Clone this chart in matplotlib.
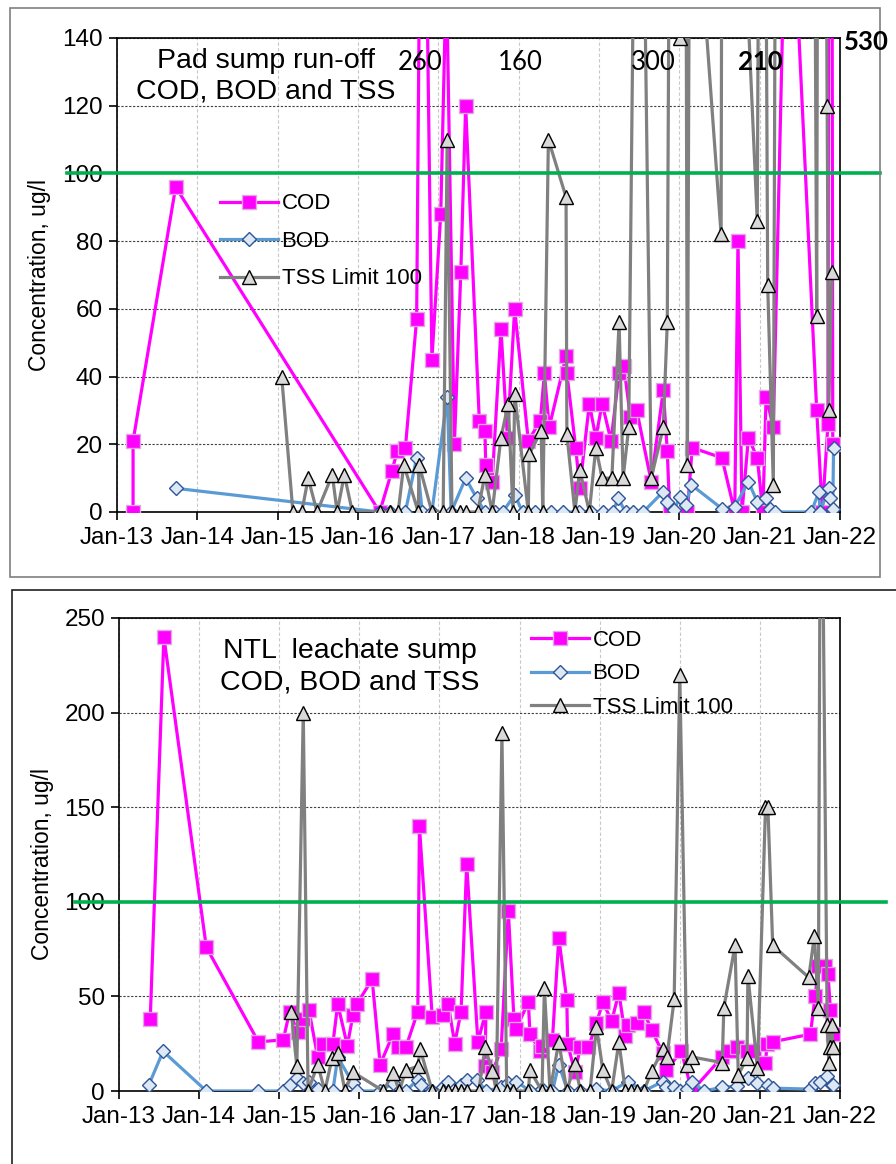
import matplotlib
matplotlib.use("Agg")
import matplotlib.pyplot as plt
from matplotlib.patches import Rectangle

plt.rcParams['font.family'] = ['Liberation Sans', 'DejaVu Sans']

# decimal year positions and concentrations, pad sump run-off
top_cod_x = [2013.20, 2013.20, 2013.73, 2016.27, 2016.42, 2016.49, 2016.59, 2016.73, 2016.80, 2016.92,
             2017.03, 2017.10, 2017.20, 2017.28, 2017.34, 2017.51, 2017.58, 2017.59, 2017.67, 2017.78,
             2017.86, 2017.95, 2018.12, 2018.27, 2018.32, 2018.38, 2018.59, 2018.60, 2018.71, 2018.76,
             2018.88, 2018.96, 2019.04, 2019.15, 2019.25, 2019.31, 2019.39, 2019.47, 2019.65, 2019.80,
             2019.85, 2019.88, 2020.10, 2020.16, 2020.53, 2020.69, 2020.73, 2020.78, 2020.86, 2020.97,
             2021.04, 2021.08, 2021.17, 2021.35, 2021.71, 2021.78, 2021.85, 2021.88, 2021.91]
top_cod_y = [0, 21, 96, 0, 12, 18, 19, 57, 260, 45,
             88, 160, 20, 71, 120, 27, 24, 14, 9, 54,
             22, 60, 21, 27, 41, 25, 46, 41, 19, 7,
             32, 22, 32, 21, 41, 43, 28, 30, 9, 36,
             18, 0, 0, 19, 16, 0, 80, 0, 22, 16,
             0, 34, 25, 210, 30, 0, 26, 530, 20]

top_bod_x = [2013.73, 2016.27, 2016.40, 2016.59, 2016.73, 2016.80, 2016.92, 2017.11, 2017.16, 2017.34,
             2017.48, 2017.58, 2017.70, 2017.80, 2017.95, 2018.05, 2018.20, 2018.40, 2018.55, 2018.75,
             2018.90, 2019.05, 2019.17, 2019.24, 2019.33, 2019.42, 2019.55, 2019.80, 2019.85, 2019.93,
             2020.01, 2020.08, 2020.15, 2020.53, 2020.69, 2020.86, 2020.97, 2021.08, 2021.13, 2021.19,
             2021.64, 2021.74, 2021.75, 2021.86, 2021.87, 2021.91, 2021.92]
top_bod_y = [7, 0, 0, 0, 16, 0, 0, 34, 0, 10,
             4, 0, 0, 0, 5, 0, 0, 0, 0, 0,
             0, 0, 0, 4, 0, 0, 0, 6, 3, 0.5,
             4.5, 2, 8, 1, 1.5, 9, 3, 4, 1, 0,
             0, 6, 0, 7, 4, 1, 19]

top_tss_x = [2015.05, 2015.19, 2015.30, 2015.38, 2015.49, 2015.68, 2015.74, 2015.83, 2015.93, 2016.27,
             2016.40, 2016.50, 2016.57, 2016.75, 2016.76, 2016.92, 2017.06, 2017.11, 2017.17, 2017.27,
             2017.34, 2017.49, 2017.58, 2017.67, 2017.78, 2017.87, 2017.93, 2017.95, 2018.12, 2018.13,
             2018.28, 2018.30, 2018.37, 2018.59, 2018.60, 2018.70, 2018.76, 2018.88, 2018.96, 2019.04,
             2019.16, 2019.25, 2019.30, 2019.37, 2019.49, 2019.65, 2019.80, 2019.85, 2019.92, 2020.01,
             2020.06, 2020.10, 2020.13, 2020.52, 2020.54, 2020.97, 2021.03, 2021.10, 2021.17, 2021.20,
             2021.68, 2021.71, 2021.75, 2021.84, 2021.86, 2021.90]
top_tss_y = [40, 0, 0, 10, 0, 11, 0, 11, 0, 0,
             0, 0, 14, 0, 14, 0, 0, 110, 0, 0,
             0, 0, 11, 0, 22, 32, 0, 35, 0, 17,
             24, 0, 110, 93, 23, 0, 12.5, 0, 19, 10,
             10, 56, 10, 25, 300, 10, 25, 56, 400, 140,
             400, 14, 210, 82, 315, 86, 400, 67, 8, 210,
             210, 58, 530, 120, 30, 71]

# NTL leachate sump
bot_cod_x = [2013.39, 2013.56, 2014.09, 2014.74, 2015.05, 2015.13, 2015.23, 2015.30, 2015.37, 2015.48,
             2015.55, 2015.67, 2015.73, 2015.85, 2015.92, 2015.97, 2016.16, 2016.26, 2016.42, 2016.48,
             2016.58, 2016.73, 2016.75, 2016.91, 2017.05, 2017.11, 2017.19, 2017.27, 2017.34, 2017.48,
             2017.58, 2017.57, 2017.66, 2017.77, 2017.86, 2017.93, 2017.96, 2018.11, 2018.13, 2018.26,
             2018.28, 2018.41, 2018.49, 2018.59, 2018.60, 2018.69, 2018.76, 2018.86, 2018.96, 2019.04,
             2019.15, 2019.24, 2019.32, 2019.35, 2019.47, 2019.55, 2019.65, 2019.79, 2019.83, 2020.02,
             2020.15, 2020.53, 2020.63, 2020.72, 2020.84, 2020.93, 2021.07, 2021.09, 2021.16, 2021.63,
             2021.69, 2021.73, 2021.81, 2021.85, 2021.88, 2021.91]
bot_cod_y = [38, 240, 76, 26, 27, 42, 31, 38, 43, 18,
             25, 25, 46, 24, 40, 46, 59, 14, 30, 23,
             23, 42, 140, 39, 40, 46, 25, 42, 120, 26,
             42, 13, 10, 22, 95, 38, 33, 47, 30, 21,
             24, 27, 81, 48, 25, 10, 23, 23, 36, 47,
             37, 52, 29, 35, 36, 42, 32, 20, 11, 21,
             0, 18, 21, 23, 21, 21, 15, 25, 26, 30,
             50, 66, 66, 62, 43, 30]

bot_bod_x = [2013.37, 2013.55, 2014.09, 2014.74, 2015.05, 2015.13, 2015.22, 2015.30, 2015.37, 2015.48,
             2015.67, 2015.73, 2015.92, 2015.97, 2016.26, 2016.42, 2016.58, 2016.73, 2016.77, 2016.91,
             2017.05, 2017.11, 2017.27, 2017.34, 2017.47, 2017.58, 2017.77, 2017.86, 2017.96, 2018.13,
             2018.28, 2018.41, 2018.49, 2018.60, 2018.76, 2018.96, 2019.15, 2019.35, 2019.55, 2019.79,
             2019.83, 2019.93, 2020.00, 2020.09, 2020.15, 2020.30, 2020.53, 2020.72, 2020.85, 2020.96,
             2021.10, 2021.16, 2021.63, 2021.69, 2021.75, 2021.84, 2021.90, 2021.91]
bot_bod_y = [3, 21, 0, 0, 0, 3, 7, 4, 5, 1,
             0, 18, 4, 0, 0, 4, 0, 6, 3, 0,
             2, 5, 3, 6, 6, 0, 2, 4, 5, 0,
             1, 0, 14, 0, 0, 1, 0, 5, 0, 5,
             2, 2, 0, 1, 5, 0, 2, 2.5, 7, 4,
             3, 1.5, 1, 4, 5, 8, 3, 3]

bot_tss_x = [2015.15, 2015.22, 2015.30, 2015.36, 2015.48, 2015.57, 2015.66, 2015.73, 2015.82, 2015.92,
             2016.30, 2016.42, 2016.50, 2016.58, 2016.73, 2016.76, 2016.91, 2017.04, 2017.11, 2017.19,
             2017.27, 2017.34, 2017.49, 2017.57, 2017.66, 2017.71, 2017.78, 2017.84, 2017.92, 2018.11,
             2018.13, 2018.28, 2018.31, 2018.38, 2018.49, 2018.59, 2018.69, 2018.76, 2018.88, 2018.96,
             2019.04, 2019.15, 2019.24, 2019.32, 2019.39, 2019.47, 2019.55, 2019.65, 2019.79, 2019.84,
             2019.93, 2020.00, 2020.09, 2020.15, 2020.53, 2020.55, 2020.69, 2020.73, 2020.84, 2020.85,
             2020.97, 2021.07, 2021.10, 2021.16, 2021.61, 2021.68, 2021.73, 2021.76, 2021.84, 2021.86,
             2021.87, 2021.90, 2021.91]
bot_tss_y = [42, 13, 200, 0, 14, 0, 17.5, 20, 0, 10,
             0, 9.5, 0, 11, 13, 22, 0, 0, 0, 0,
             0, 0, 0, 23, 10.5, 0, 189, 0, 0, 0,
             11, 0, 54.5, 0, 26, 0, 14.5, 0, 0, 34,
             11, 0, 26, 0, 0, 0, 0, 10.5, 22, 18,
             48.5, 220, 14, 18, 15, 44, 77, 8.5, 17.5, 61,
             12, 150, 150, 77, 60, 82, 44, 400, 35, 15,
             23, 35, 23]

years = list(range(2013, 2023))
year_labels = ['Jan-13', 'Jan-14', 'Jan-15', 'Jan-16', 'Jan-17',
               'Jan-18', 'Jan-19', 'Jan-20', 'Jan-21', 'Jan-22']

W, H = 896, 1164
fig = plt.figure(figsize=(W / 100, H / 100), dpi=100)

# frames round each chart
fig.add_artist(Rectangle((10 / W, 1 - 577 / H), 870 / W, 569 / H, transform=fig.transFigure,
                         fill=False, edgecolor='#7f7f7f', linewidth=1.2))
fig.add_artist(Rectangle((12 / W, -0.01), 1.0, 1.01 - 590 / H, transform=fig.transFigure,
                         fill=False, edgecolor='#202020', linewidth=1.2))


def panel(ax, cod_x, cod_y, bod_x, bod_y, tss_x, tss_y, ymax, ystep, green_span):
    ax.plot(cod_x, cod_y, color='#ff00ff', lw=2.3, marker='s', ms=9.5,
            mfc='#ff00ff', mec='#e0a8e0', mew=1.0, label='COD', zorder=3)
    ax.plot(bod_x, bod_y, color='#5b9bd5', lw=2.3, marker='D', ms=7.5,
            mfc='#dde8f5', mec='#2f5597', mew=1.0, label='BOD', zorder=4)
    ax.plot(tss_x, tss_y, color='#808080', lw=2.3, marker='^', ms=10.5,
            mfc='#d9d9d9', mec='black', mew=1.0, label='TSS Limit 100', zorder=5)
    ax.plot(green_span, [100, 100], transform=ax.get_yaxis_transform(), clip_on=False,
            color='#00b050', lw=2.6, zorder=6)
    ax.set_xlim(2013, 2022)
    ax.set_ylim(0, ymax)
    ax.set_xticks(years)
    ax.set_xticklabels(year_labels)
    ax.set_yticks(range(0, ymax + 1, ystep))
    ax.tick_params(axis='both', labelsize=17.5, direction='out', length=6, width=1.2, color='black')
    ax.tick_params(axis='x', pad=5)
    ax.tick_params(axis='y', pad=4)
    ax.grid(axis='y', color='#404040', linestyle=(0, (2, 1.5)), linewidth=0.8)
    ax.grid(axis='x', color='#c8c8c8', linestyle=(0, (3, 2)), linewidth=0.8)
    ax.set_axisbelow(True)
    for s in ax.spines.values():
        s.set_color('black')
        s.set_linewidth(1.2)
    ax.set_ylabel('Concentration, ug/l', fontsize=16.5)


# top chart: pad sump run-off
ax1 = fig.add_axes([117 / W, 1 - 512 / H, 723 / W, 474 / H])
panel(ax1, top_cod_x, top_cod_y, top_bod_x, top_bod_y, top_tss_x, top_tss_y,
      140, 20, [-0.069, 1.055])
ax1.yaxis.set_label_coords(-0.091, 0.5)
ax1.text(0.206, 0.978, 'Pad sump run-off\nCOD, BOD and TSS', transform=ax1.transAxes,
         ha='center', va='top', fontsize=20.5, linespacing=1.22)
ax1.legend(loc='upper left', bbox_to_anchor=(0.143, 0.672), frameon=False, fontsize=16,
           borderpad=0, borderaxespad=0, handlelength=2.6, handletextpad=0.15,
           labelspacing=0.74)

# values beyond the top of the scale
lab_font = ['Lato', 'DejaVu Sans']
for txt, px, py, wt in [('260', 420, 62, 'normal'), ('160', 520, 62, 'normal'),
                        ('300', 653, 62, 'normal'), ('210', 760, 62, 'bold'),
                        ('530', 866, 42, 'bold')]:
    fig.text(px / W, 1 - py / H, txt, ha='center', va='center', fontsize=18.5,
             fontweight=wt, family=lab_font)

# bottom chart: NTL leachate sump
ax2 = fig.add_axes([119 / W, 1 - 1091 / H, 721 / W, 473 / H])
panel(ax2, bot_cod_x, bot_cod_y, bot_bod_x, bot_bod_y, bot_tss_x, bot_tss_y,
      250, 50, [-0.061, 1.064])
ax2.yaxis.set_label_coords(-0.090, 0.48)
ax2.text(0.32, 0.957, 'NTL  leachate sump\nCOD, BOD and TSS', transform=ax2.transAxes,
         ha='center', va='top', fontsize=20.5, linespacing=1.28)
ax2.legend(loc='upper left', bbox_to_anchor=(0.572, 0.975), frameon=False, fontsize=16,
           borderpad=0, borderaxespad=0, handlelength=2.6, handletextpad=0.15,
           labelspacing=0.57)

fig.savefig('out.png', dpi=100)
